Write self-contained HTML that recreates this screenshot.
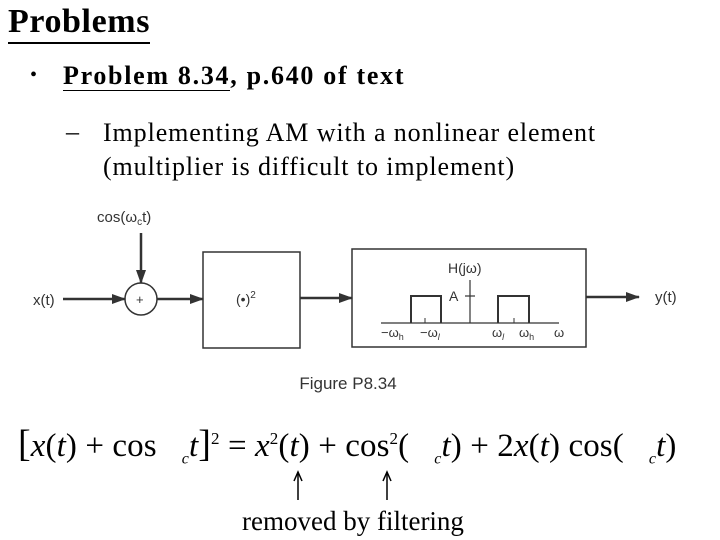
<!DOCTYPE html>
<html><head><meta charset="utf-8"><style>
body{margin:0;background:#fff;}
#s{position:relative;width:720px;height:540px;overflow:hidden;font-family:"Liberation Serif",serif;color:#000;}
.t{position:absolute;white-space:nowrap;}
</style></head><body>
<div id="s">
<div class="t" style="left:8px;top:2px;font-size:34px;letter-spacing:0.6px;font-weight:bold;border-bottom:2px solid #000;line-height:40px;">Problems</div>
<div class="t" style="left:30px;top:64px;font-size:20px;">•</div>
<div class="t" style="left:63px;top:60px;font-size:26px;letter-spacing:1.7px;font-weight:bold;line-height:32px;"><span style="border-bottom:1.5px solid #000;">Problem 8.34</span>, p.640 of text</div>
<div class="t" style="left:66px;top:117px;font-size:26px;">–</div>
<div class="t" style="left:103px;top:116px;font-size:26px;letter-spacing:0.9px;line-height:34px;">Implementing AM with a nonlinear element<br>(multiplier is difficult to implement)</div>
<svg width="720" height="540" style="position:absolute;left:0;top:0" font-family="Liberation Sans, sans-serif" fill="none" stroke="#333">
<defs><marker id="ah" markerUnits="userSpaceOnUse" markerWidth="14" markerHeight="10" refX="13" refY="5" orient="auto"><path d="M0,0L14,5L0,10z" fill="#333" stroke="none"/></marker></defs>
<text x="97" y="222" font-size="15" fill="#333" stroke="none">cos(ω<tspan font-size="10" dy="3">c</tspan><tspan dy="-3">t)</tspan></text>
<line x1="141" y1="233" x2="141" y2="283" stroke-width="2.5" marker-end="url(#ah)"/>
<circle cx="141" cy="299" r="16" stroke-width="1.5"/>
<text x="136" y="304" font-size="13" fill="#333" stroke="none">+</text>
<text x="33" y="305" font-size="15" fill="#333" stroke="none">x(t)</text>
<line x1="63" y1="299" x2="125" y2="299" stroke-width="2.5" marker-end="url(#ah)"/>
<line x1="157" y1="299" x2="203" y2="299" stroke-width="2.5" marker-end="url(#ah)"/>
<rect x="203" y="252" width="97" height="96" stroke-width="1.5"/>
<text x="236" y="304" font-size="14" fill="#333" stroke="none">(•)<tspan font-size="10" dy="-6">2</tspan></text>
<line x1="300" y1="298" x2="352" y2="298" stroke-width="2.5" marker-end="url(#ah)"/>
<rect x="352" y="249" width="234" height="98" stroke-width="1.5"/>
<text x="448" y="273" font-size="14" fill="#333" stroke="none">H(jω)</text>
<line x1="470" y1="280" x2="470" y2="323" stroke-width="1.2"/>
<line x1="381" y1="323" x2="559" y2="323" stroke-width="1.2"/>
<path d="M411,323V296H441V323M498,323V296H529V323" stroke-width="2"/>
<line x1="465" y1="296" x2="475" y2="296" stroke-width="1.2"/>
<text x="449" y="301" font-size="14" fill="#333" stroke="none">A</text>
<line x1="425" y1="318" x2="425" y2="323"/><line x1="514" y1="318" x2="514" y2="323"/>
<g font-size="13" fill="#333" stroke="none"><text x="381" y="337">−ω<tspan font-size="9" dy="3">h</tspan></text><text x="420" y="337">−ω<tspan font-size="9" dy="3" font-style="italic">l</tspan></text><text x="492" y="337">ω<tspan font-size="9" dy="3" font-style="italic">l</tspan></text><text x="519" y="337">ω<tspan font-size="9" dy="3">h</tspan></text><text x="554" y="337">ω</text></g>
<line x1="586" y1="297" x2="639" y2="297" stroke-width="2.5" marker-end="url(#ah)"/>
<text x="655" y="302" font-size="15" fill="#333" stroke="none">y(t)</text>
<text x="348" y="389" font-size="17" fill="#333" stroke="none" text-anchor="middle">Figure P8.34</text>
<g stroke="#000" stroke-width="1.5"><line x1="298" y1="500" x2="298" y2="474"/><path d="M294,481L298,472L302,481"/><line x1="387" y1="500" x2="387" y2="474"/><path d="M383,481L387,472L391,481"/></g>
</svg>
<div class="t" style="left:18px;top:418px;font-size:33px;letter-spacing:0.1px;line-height:42px;"><span style="font-size:38px">[</span><i>x</i>(<i>t</i>) + cos &nbsp;&nbsp;<sub style="font-size:16px"><i>c</i></sub><i>t</i><span style="font-size:38px">]</span><sup style="font-size:17px">2</sup> = <i>x</i><sup style="font-size:17px">2</sup>(<i>t</i>) + cos<sup style="font-size:17px">2</sup>( &nbsp;&nbsp;<sub style="font-size:16px"><i>c</i></sub><i>t</i>) + 2<i>x</i>(<i>t</i>) cos( &nbsp;&nbsp;<sub style="font-size:16px"><i>c</i></sub><i>t</i>)</div>
<div class="t" style="left:242px;top:505px;font-size:27px;line-height:32px;">removed by filtering</div>
</div>
</body></html>
